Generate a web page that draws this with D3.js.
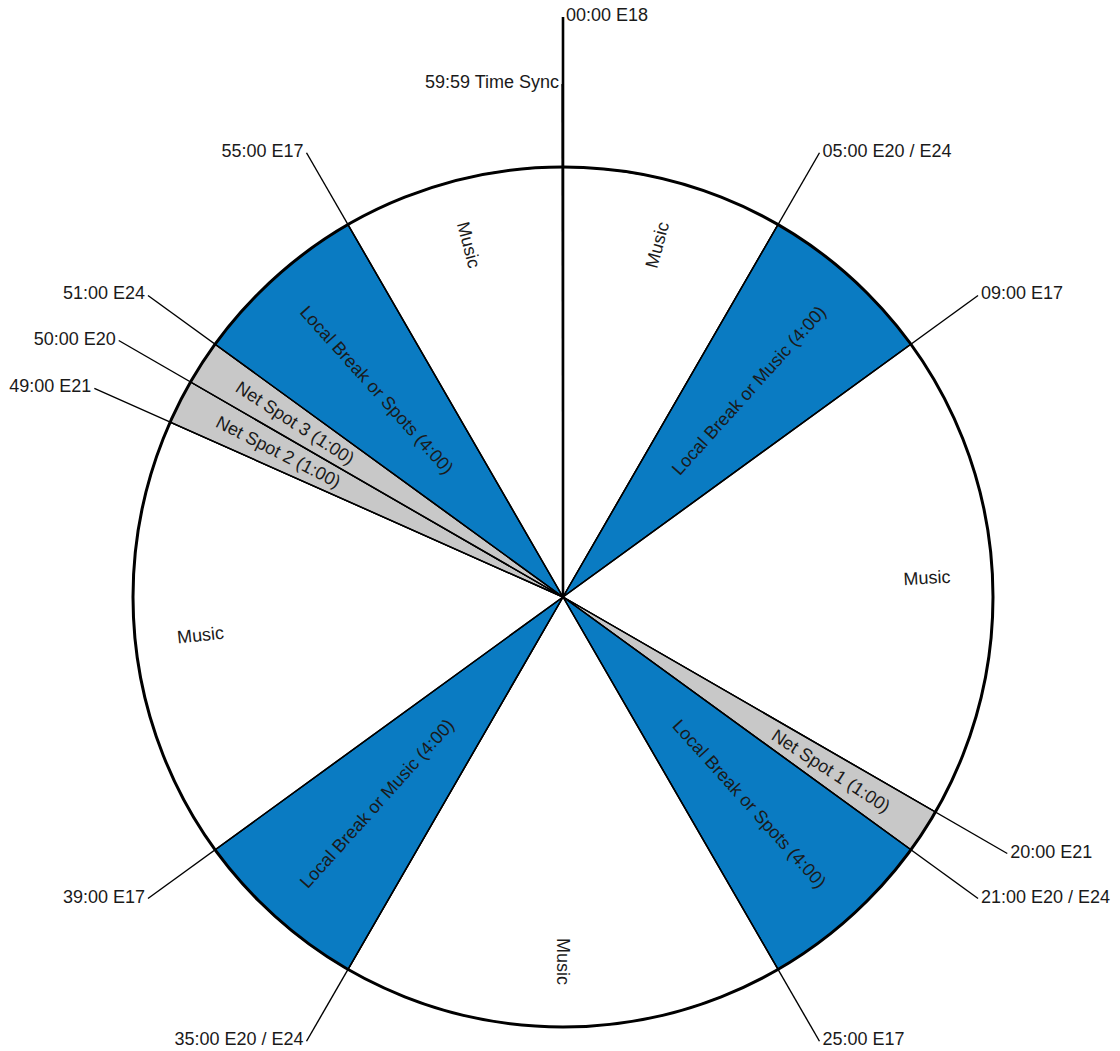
<!DOCTYPE html>
<html>
<head>
<meta charset="utf-8">
<script src="https://cdn.jsdelivr.net/npm/d3@7"></script>
<style>
  body { margin: 0; background: #fff; }
  text { font-family: "Liberation Sans", Arial, sans-serif; font-size: 18px; fill: #1a1a1a; }
</style>
</head>
<body>
<div id="clock"></div>
<script>
// hour clock segments (minutes)
var segStart = [0, 5, 9, 20, 21, 25, 35, 39, 49, 50, 51, 55];
var segEnd   = [5, 9, 20, 21, 25, 35, 39, 49, 50, 51, 55, 60];
var segType  = ['music', 'local', 'music', 'net', 'local', 'music', 'local', 'music', 'net', 'net', 'local', 'music'];
var segLabel = ['Music', 'Local Break or Music (4:00)', 'Music', 'Net Spot 1 (1:00)',
                'Local Break or Spots (4:00)', 'Music', 'Local Break or Music (4:00)', 'Music',
                'Net Spot 2 (1:00)', 'Net Spot 3 (1:00)', 'Local Break or Spots (4:00)', 'Music'];

// event markers around the clock
var markMinute = [0, 59 + 59 / 60, 5, 9, 20, 21, 25, 35, 39, 49, 50, 51, 55];
var markLabel  = ['00:00 E18', '59:59 Time Sync', '05:00 E20 / E24', '09:00 E17', '20:00 E21',
                  '21:00 E20 / E24', '25:00 E17', '35:00 E20 / E24', '39:00 E17', '49:00 E21',
                  '50:00 E20', '51:00 E24', '55:00 E17'];

var colors = { music: '#ffffff', local: '#0a7bc2', net: '#c8c8c8' };

var width = 1120, height = 1051;
var cx = 563, cy = 597;
var radius = 430;
var labelR = 388;     // outer end of the in-slice labels
var leaderR = 513;    // leader line length
var topLeaderR = 580; // 00:00 marker goes higher

var angle = d3.scaleLinear().domain([0, 60]).range([0, 2 * Math.PI]);

function px(a, r) { return cx + r * Math.sin(a); }
function py(a, r) { return cy - r * Math.cos(a); }

var svg = d3.select('#clock').append('svg')
    .attr('width', width)
    .attr('height', height);

var g = svg.append('g');

var arc = d3.arc().innerRadius(0).outerRadius(radius);

var segs = segStart.map(function (s, i) {
    return { start: s, end: segEnd[i], type: segType[i], label: segLabel[i] };
});

// slices
g.selectAll('path.slice')
    .data(segs)
    .enter()
    .append('path')
    .attr('class', 'slice')
    .attr('transform', 'translate(' + cx + ',' + cy + ')')
    .attr('d', function (d) {
        return arc({ startAngle: angle(d.start), endAngle: angle(d.end) });
    })
    .attr('fill', d => colors[d.type])
    .attr('stroke', '#000')
    .attr('stroke-width', 1.4)
    .attr('stroke-linejoin', 'round');

// leader lines
var marks = markMinute.map(function (m, i) { return { m: m, label: markLabel[i] }; });

g.selectAll('line.leader')
    .data(marks)
    .enter()
    .append('line')
    .attr('class', 'leader')
    .attr('x1', cx)
    .attr('y1', cy)
    .attr('x2', d => px(angle(d.m), d.m === 0 ? topLeaderR : leaderR))
    .attr('y2', d => py(angle(d.m), d.m === 0 ? topLeaderR : leaderR))
    .attr('stroke', '#000')
    .attr('stroke-width', d => d.m === 0 ? 2.6 : 1.4);

// outer rim
g.append('circle')
    .attr('cx', cx)
    .attr('cy', cy)
    .attr('r', radius)
    .attr('fill', 'none')
    .attr('stroke', '#000')
    .attr('stroke-width', 3);

// marker labels
g.selectAll('text.mark')
    .data(marks)
    .enter()
    .append('text')
    .attr('class', 'mark')
    .attr('x', function (d) {
        var r = d.m === 0 ? topLeaderR : leaderR;
        var right = d.m < 30 && d.m !== 59 + 59 / 60;
        return px(angle(d.m), r) + (right ? 3 : -3);
    })
    .attr('y', d => py(angle(d.m), d.m === 0 ? topLeaderR : leaderR) - 2)
    .attr('dominant-baseline', 'central')
    .attr('text-anchor', d => (d.m < 30 ? 'start' : 'end'))
    .text(d => d.label);

// in-slice labels, read along the radius
g.selectAll('text.seg')
    .data(segs)
    .enter()
    .append('text')
    .attr('class', 'seg')
    .each(function (d) {
        var mid = (d.start + d.end) / 2;
        var a = angle(mid);
        var rot = a * 180 / Math.PI - 90;
        var anchor = 'end';
        if (rot > 90) { rot -= 180; anchor = 'start'; }
        var x = px(a, labelR), y = py(a, labelR);
        d3.select(this)
            .attr('transform', 'translate(' + x + ',' + y + ') rotate(' + rot + ')')
            .attr('text-anchor', anchor)
            .attr('dominant-baseline', 'central')
            .text(d.label);
    });
</script>
</body>
</html>
